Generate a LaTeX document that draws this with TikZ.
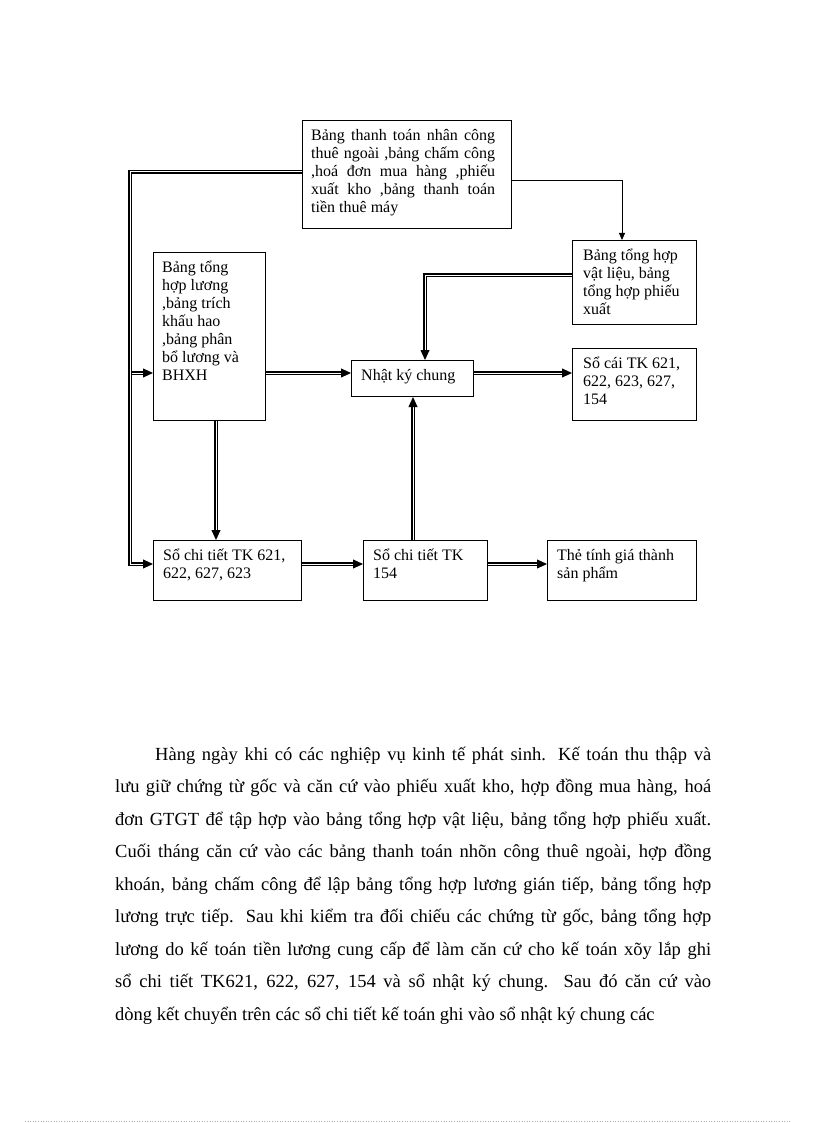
\documentclass[tikz,border=0pt]{standalone}
\usepackage{fontspec}
\setmainfont{Liberation Serif}
\usetikzlibrary{arrows.meta,decorations.markings}
\tikzset{
  bx/.style={draw, line width=1pt, inner sep=0pt, anchor=north west},
  txt/.style={anchor=north west, inner sep=0pt, font=\fontsize{16pt}{18pt}\selectfont},
  dbl/.style={draw=black, line width=3.2pt, line join=miter, shorten >=8pt,
    postaction={draw=white, line width=1.0pt, shorten >=8pt},
    postaction={decorate, decoration={markings, mark=at position 1 with {\fill[black] (0pt,0pt) -- (-10pt,4.6pt) -- (-10pt,-4.6pt) -- cycle;}}}},
  thinarrow/.style={line width=0.9pt, -{Triangle[length=7pt,width=6pt]}}
}
\newcommand{\fl}{\rule{0pt}{16.5pt}}
\begin{document}
\begin{tikzpicture}[x=1pt,y=-1pt]
\useasboundingbox (0,0) rectangle (816,1123);
\fill[white] (0,0) rectangle (816,1123);

% boxes
\node[bx, minimum width=209pt, minimum height=108pt] (top) at (302,120) {};
\node[txt, text width=184pt, align=justify] (ttop) at ([shift={(9,3.5)}]top.north west)
  {\fl Bảng thanh toán nhân công\linebreak thuê ngoài ,bảng chấm công\linebreak ,hoá đơn mua hàng ,phiếu\linebreak xuất kho ,bảng thanh toán\linebreak tiền thuê máy};

\node[bx, minimum width=112pt, minimum height=168pt] (lbox) at (153,252) {};
\node[txt, align=left] (tlbox) at ([shift={(9,3.5)}]lbox.north west)
  {\fl Bảng tổng\\ hợp lương\\ ,bảng trích\\ khấu hao\\ ,bảng phân\\ bổ lương  và\\ BHXH};

\node[bx, minimum width=122pt, minimum height=36pt] (nkc) at (351,360) {};
\node[txt, align=left] (tnkc) at ([shift={(10,3.5)}]nkc.north west) {\fl Nhật ký chung};

\node[bx, minimum width=124pt, minimum height=84pt] (vl) at (572,240) {};
\node[txt, align=left] (tvl) at ([shift={(11,4)}]vl.north west)
  {\fl Bảng tổng hợp\\ vật liệu,  bảng\\ tổng hợp phiếu\\ xuất};

\node[bx, minimum width=124pt, minimum height=72pt] (sc) at (572,348) {};
\node[txt, align=left] (tsc) at ([shift={(11,3.5)}]sc.north west)
  {\fl Sổ cái TK 621,\\ 622, 623, 627,\\ 154};

\node[bx, minimum width=148pt, minimum height=60pt] (sct) at (153,540) {};
\node[txt, align=left] (tsct) at ([shift={(10,3.5)}]sct.north west)
  {\fl Sổ chi tiết TK 621,\\ 622, 627, 623};

\node[bx, minimum width=124pt, minimum height=60pt] (s154) at (363,540) {};
\node[txt, align=left] (ts154) at ([shift={(10,3.5)}]s154.north west)
  {\fl Sổ chi tiết TK\\ 154};

\node[bx, minimum width=149pt, minimum height=60pt] (the) at (547,540) {};
\node[txt, align=left] (tthe) at ([shift={(10,3.5)}]the.north west)
  {\fl Thẻ tính giá thành\\ sản phẩm};

% connectors
\coordinate (lc) at (130,564);
\coordinate (lb) at (131.6,373);
\draw[dbl] (top.west |- 0,172) -| (lc) -- (sct.west |- 0,564);
\draw[dbl] (lb) -- (lbox.west |- 0,373);
\draw[dbl] (lbox.east |- 0,373) -- (nkc.west |- 0,373);
\draw[dbl] (nkc.east |- 0,373) -- (sc.west |- 0,373);
\draw[dbl] (vl.west |- 0,275) -| (nkc.north -| 425,0);
\draw[dbl] (lbox.south -| 216,0) -- (sct.north -| 216,0);
\draw[dbl] (s154.north -| 413,0) -- (nkc.south -| 413,0);
\draw[dbl] (sct.east |- 0,564) -- (s154.west |- 0,564);
\draw[dbl] (s154.east |- 0,564) -- (the.west |- 0,564);
\draw[thinarrow] (top.east |- 0,180) -| (vl.north -| 622,0);

% paragraph
\node[anchor=north west, inner sep=0pt, text width=596pt, align=justify,
      font=\fontsize{18.5pt}{32.5pt}\selectfont] (para) at (115,740)
 {\rule{0pt}{20pt}\hspace*{40pt}Hàng ngày khi  có các nghiệp  vụ kinh tế phát sinh. Kế toán thu thập và\linebreak
 lưu giữ chứng từ gốc và căn cứ vào phiếu xuất kho, hợp đồng mua hàng, hoá\linebreak
 đơn GTGT để tập hợp vào bảng tổng hợp vật liệu,  bảng tổng hợp phiếu xuất.\linebreak
 Cuối tháng căn cứ vào các bảng thanh toán nhõn công thuê ngoài, hợp đồng\linebreak
 khoán, bảng chấm công để lập bảng tổng hợp lương gián tiếp, bảng tổng hợp\linebreak
 lương trực tiếp. Sau khi kiểm tra đối chiếu các chứng từ gốc, bảng tổng hợp\linebreak
 lương do kế toán tiền lương cung cấp để làm căn cứ cho kế toán xõy lắp ghi\linebreak
 sổ chi tiết TK621, 622, 627, 154 và sổ nhật ký chung. Sau đó căn cứ vào\linebreak
 dòng kết chuyển trên các sổ chi tiết kế toán ghi vào sổ nhật ký chung các};

\draw[gray!60, dotted, line width=0.6pt] (25,1121.5) -- (792,1121.5);
\end{tikzpicture}
\end{document}
